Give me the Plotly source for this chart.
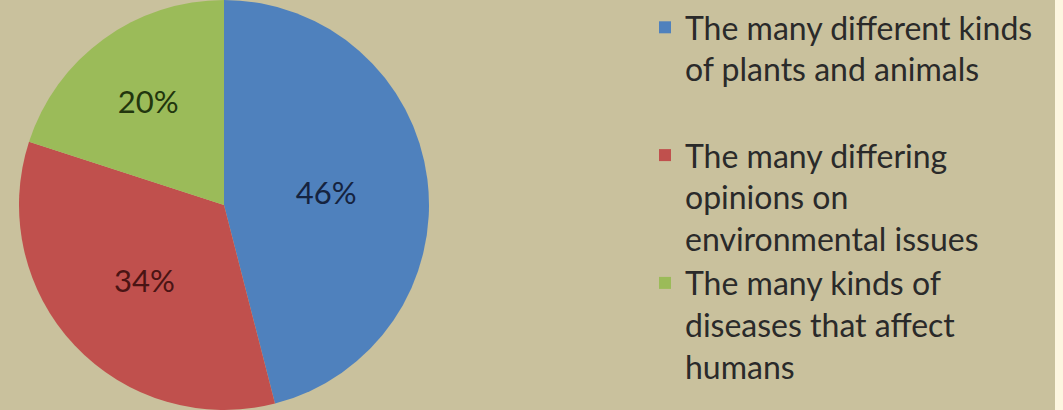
import plotly.graph_objects as go

categories = [
    "The many different kinds<br>of plants and animals<br> ",
    "The many differing<br>opinions on<br>environmental issues",
    "The many kinds of<br>diseases that affect<br>humans",
]
values = [46, 34, 20]
colors = ["#4f81bd", "#c0504d", "#9bbb59"]
label_colors = ["#15233f", "#4a1414", "#22360e"]

W, H = 1063, 410
fig = go.Figure(go.Pie(
    labels=categories,
    values=values,
    sort=False,
    direction="clockwise",
    rotation=0,
    marker=dict(colors=colors, line=dict(width=0)),
    texttemplate="%{value}%",
    textposition="inside",
    insidetextorientation="horizontal",
    textfont=dict(family="Lato", size=31, color=label_colors),
    hoverinfo="label+percent",
    domain=dict(x=[19 / W, 429 / W], y=[0, 1]),
))

fig.update_layout(
    width=W, height=H,
    margin=dict(l=0, r=0, t=0, b=0),
    paper_bgcolor="#c9c19d",
    plot_bgcolor="#c9c19d",
    font=dict(family="Lato", color="#2a2a2a"),
    showlegend=True,
    legend=dict(
        x=645 / W, y=1.0, xanchor="left", yanchor="top",
        valign="top",
        font=dict(family="Lato", size=32, color="#2a2a2a"),
        bgcolor="rgba(0,0,0,0)",
    ),
    shapes=[dict(type="rect", xref="paper", yref="paper",
                 x0=1055 / W, x1=1, y0=0, y1=1,
                 fillcolor="#fdf6e0", line=dict(width=0), layer="above")],
)

fig.write_html("out.html")
